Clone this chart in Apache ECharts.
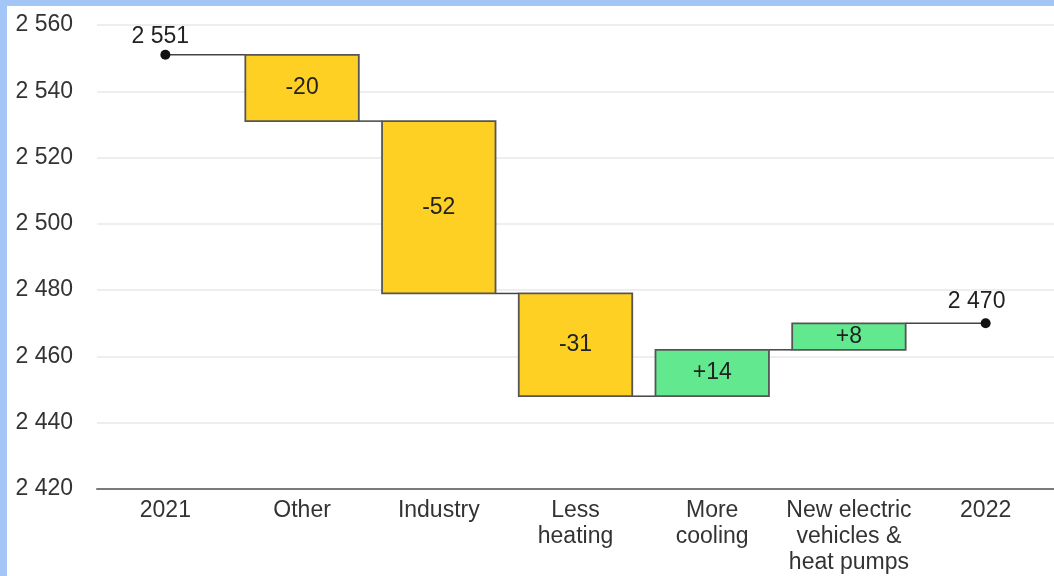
<!DOCTYPE html>
<html><head><meta charset="utf-8">
<script src="https://cdn.jsdelivr.net/npm/echarts@6/dist/echarts.min.js"></script>
<style>
html,body{margin:0;padding:0;background:#a3c6f7;}
#wrap{position:absolute;left:7px;top:6px;width:1047px;height:570px;background:#fff;}
#c{width:1047px;height:570px;}
</style></head>
<body><div id="wrap"><div id="c"></div></div>
<script>
const categories = ['2021','Other','Industry','Less\nheating','More\ncooling','New electric\nvehicles &\nheat pumps','2022'];
const startValue = 2551;
const changes = [-20, -52, -31, 14, 8];
const endValue = 2470;
const yTicks = {min: 2420, max: 2560, interval: 20};

// build waterfall items
const items = [];
let cum = startValue;
items.push({i:0, type:'point', lo:startValue, hi:startValue, level:startValue, label:'2 551'});
changes.forEach((d, k) => {
  const prev = cum; cum += d;
  items.push({i:k+1, type: d<0?'neg':'pos', lo:Math.min(prev,cum), hi:Math.max(prev,cum), level:cum, label:(d>0?'+':'')+d});
});
items.push({i:categories.length-1, type:'point', lo:endValue, hi:endValue, level:endValue, label:'2 470'});

const fmt = v => String(v).replace(/\B(?=(\d{3})+(?!\d))/g, ' ');
const BAR_FRAC = 0.83;
const FONT = '23px "Liberation Sans", Arial';

const chart = echarts.init(document.getElementById('c'));
chart.setOption({
  animation:false,
  grid:{left:90, right:0, top:19, bottom:87},
  xAxis:{type:'category', data:categories,
    axisLine:{lineStyle:{color:'#7a7a7a', width:2}},
    axisTick:{show:false},
    axisLabel:{color:'#333', fontSize:23, fontFamily:'Liberation Sans, Arial', lineHeight:26, margin:9, interval:0}},
  yAxis:{type:'value', min:yTicks.min, max:yTicks.max, interval:yTicks.interval,
    axisLine:{show:false}, axisTick:{show:false},
    splitLine:{lineStyle:{color:'#e8e8e8', width:1.5}},
    axisLabel:{color:'#333', fontSize:23, fontFamily:'Liberation Sans, Arial', margin:24, formatter: v=>fmt(v)}},
  series:[
    {type:'custom', coordinateSystem:'cartesian2d', z:3,
     data: items.slice(0,-1).map(it=>[it.i, it.level]),
     renderItem:(params, api)=>{
       const i = api.value(0), lvl = api.value(1);
       const band = api.size([1,0])[0];
       const half = band*BAR_FRAC/2;
       const a = items[i], b = items[i+1];
       const p0 = api.coord([i, lvl]);
       const p1 = api.coord([i+1, lvl]);
       const x0 = a.type==='point' ? p0[0] : p0[0]+half;
       const x1 = b.type==='point' ? p1[0] : p1[0]-half;
       return {type:'line', shape:{x1:x0, y1:p0[1], x2:x1, y2:p0[1]}, style:{stroke:'#444', lineWidth:1.5}};
     }},
    {type:'custom', coordinateSystem:'cartesian2d', z:4,
     data: items.map(it=>[it.i, it.lo, it.hi]),
     renderItem:(params, api)=>{
       const it = items[params.dataIndex];
       const band = api.size([1,0])[0];
       const w = band*BAR_FRAC;
       if (it.type==='point') {
         const p = api.coord([it.i, it.level]);
         const dx = it.i===0 ? -5 : -9;
         const dy = it.i===0 ? -7 : -10;
         return {type:'group', children:[
           {type:'circle', shape:{cx:p[0], cy:p[1], r:5}, style:{fill:'#111'}},
           {type:'text', style:{text:it.label, x:p[0]+dx, y:p[1]+dy, align:'center', verticalAlign:'bottom', fill:'#222', font:FONT}}
         ]};
       }
       const top = api.coord([it.i, it.hi]);
       const bot = api.coord([it.i, it.lo]);
       const fill = it.type==='neg' ? '#fdd023' : '#62e98f';
       return {type:'group', children:[
         {type:'rect', shape:{x:top[0]-w/2, y:top[1], width:w, height:bot[1]-top[1]}, style:{fill:fill, stroke:'#555', lineWidth:1.8}},
         {type:'text', style:{text:it.label, x:top[0], y:(top[1]+bot[1])/2, align:'center', verticalAlign:'middle', fill:'#222', font:FONT}}
       ]};
     }}
  ]
});
</script></body></html>
